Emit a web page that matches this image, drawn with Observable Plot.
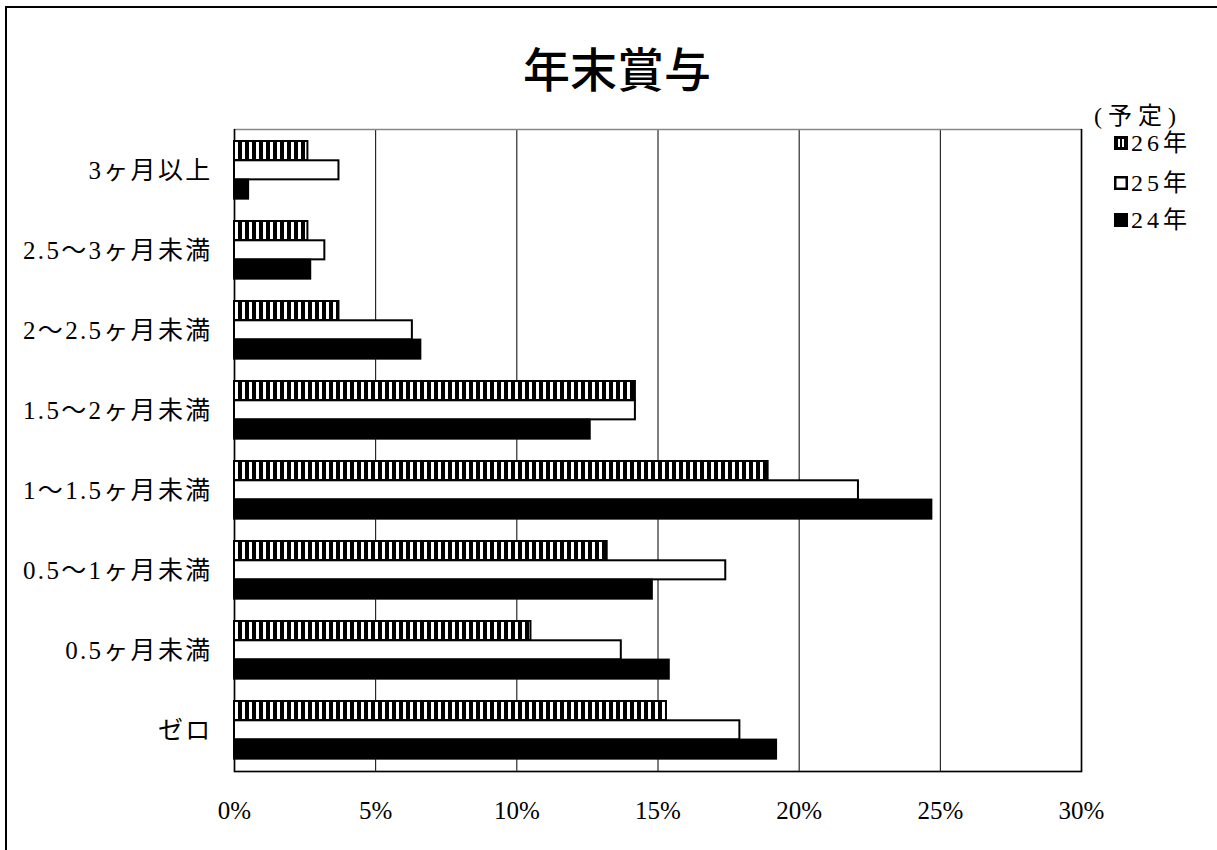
<!DOCTYPE html>
<html><head><meta charset="utf-8">
<script src="https://cdn.jsdelivr.net/npm/d3@7"></script>
<script src="https://cdn.jsdelivr.net/npm/@observablehq/plot@0.6"></script>
<style>
body{margin:0;background:#fff}
#wrap{position:relative;width:1217px;height:850px;overflow:hidden;font-family:"Liberation Serif","Noto Sans CJK JP",serif;color:#000;background:#fff}
#chart{position:absolute;left:0;top:0}
#border{position:absolute;left:5px;top:6px;width:1300px;height:900px;border-top:2px solid #000;border-left:2px solid #000;pointer-events:none}
#title{position:absolute;left:467px;top:43px;width:300px;text-align:center;font-family:"Noto Sans CJK JP",sans-serif;font-weight:500;font-size:47px;line-height:1}
#legend{position:absolute;left:1094px;top:104px;font-size:24px;line-height:1}
#legend .head{position:absolute;left:0;top:0;white-space:nowrap;letter-spacing:6px}
#legend .item{position:absolute;left:20px;white-space:nowrap;display:flex;align-items:center;letter-spacing:4px}
#legend svg{margin-right:3px}
.ylab text{letter-spacing:2.3px}
</style></head><body>
<div id="wrap">
  <div id="chart"></div>
  <div id="border"></div>
  <div id="title">年末賞与</div>
  <div id="legend"></div>
</div>
<script>
const categories = ["3ヶ月以上","2.5〜3ヶ月未満","2〜2.5ヶ月未満","1.5〜2ヶ月未満","1〜1.5ヶ月未満","0.5〜1ヶ月未満","0.5ヶ月未満","ゼロ"];
const seriesNames = ["26年","25年","24年"];
const values26 = [2.6, 2.6, 3.7, 14.2, 18.9, 13.2, 10.5, 15.3];
const values25 = [3.7, 3.2, 6.3, 14.2, 22.1, 17.4, 13.7, 17.9];
const values24 = [0.5, 2.7, 6.6, 12.6, 24.7, 14.8, 15.4, 19.2];
const xTicks = [0, 5, 10, 15, 20, 25, 30];
const legendHead = "(予定)";

const rows = (vals) => categories.map((c, i) => ({category: c, value: vals[i]}));

const W = 1217, H = 850, mL = 234, mR = 136, mT = 129, mB = 79;
const band = (H - mT - mB) / categories.length;
const barH = 19.3, outer = 11;
const insets = (i) => ({insetTop: outer + i * barH, insetBottom: band - outer - (i + 1) * barH});

const fills = ["url(#vstripe)", "#fff", "#000"];
const seriesValues = [values26, values25, values24];

const plot = Plot.plot({
  width: W, height: H,
  marginLeft: mL, marginRight: mR, marginTop: mT, marginBottom: mB,
  style: {fontFamily: '"Liberation Serif","Noto Sans CJK JP",serif', fontSize: "25px", color: "#000", background: "transparent", overflow: "visible"},
  x: {domain: [0, 30], ticks: xTicks, label: null},
  y: {domain: categories, padding: 0, label: null},
  marks: [
    Plot.ruleX(xTicks.slice(1, -1), {stroke: "#000", strokeWidth: 1}),
    Plot.frame({stroke: "#888", strokeWidth: 1.5}),
    Plot.ruleX([0, 30], {stroke: "#000", strokeWidth: 1.5}),
    Plot.frame({anchor: "bottom", stroke: "#000", strokeWidth: 1.5}),
    ...seriesValues.map((vals, i) => Plot.barX(rows(vals), {
      x: "value", y: "category", fill: fills[i], stroke: "#000", strokeWidth: 2, ...insets(i)
    })),
    Plot.axisX({ticks: xTicks, tickFormat: d => d + "%", tickSize: 0, tickPadding: 30, fontSize: 25, label: null}),
    Plot.axisY({tickSize: 0, tickPadding: 22, fontSize: 25, label: null, className: "ylab"})
  ]
});

const svgNS = "http://www.w3.org/2000/svg";
const defs = document.createElementNS(svgNS, "defs");
defs.innerHTML = '<pattern id="vstripe" patternUnits="userSpaceOnUse" width="7" height="20"><rect width="7" height="20" fill="#fff"/><rect width="4" height="20" fill="#000"/></pattern>';
plot.prepend(defs);
document.getElementById("chart").appendChild(plot);

const swatches = [
  '<svg width="14" height="14"><rect x="0" y="0" width="14" height="14" fill="#000"/><rect x="4" y="3" width="2" height="8" fill="#fff"/><rect x="8" y="3" width="2" height="8" fill="#fff"/></svg>',
  '<svg width="14" height="14"><rect x="1.25" y="1.25" width="11.5" height="11.5" fill="#fff" stroke="#000" stroke-width="2.5"/></svg>',
  '<svg width="14" height="14"><rect x="0" y="0" width="14" height="14" fill="#000"/></svg>'
];
const itemTops = [27, 67, 104];
const legend = document.getElementById("legend");
legend.innerHTML = '<div class="head">' + legendHead + '</div>' +
  seriesNames.map((n, i) => '<div class="item" style="top:' + itemTops[i] + 'px">' + swatches[i] + '<span>' + n + '</span></div>').join("");
</script>
</body></html>
